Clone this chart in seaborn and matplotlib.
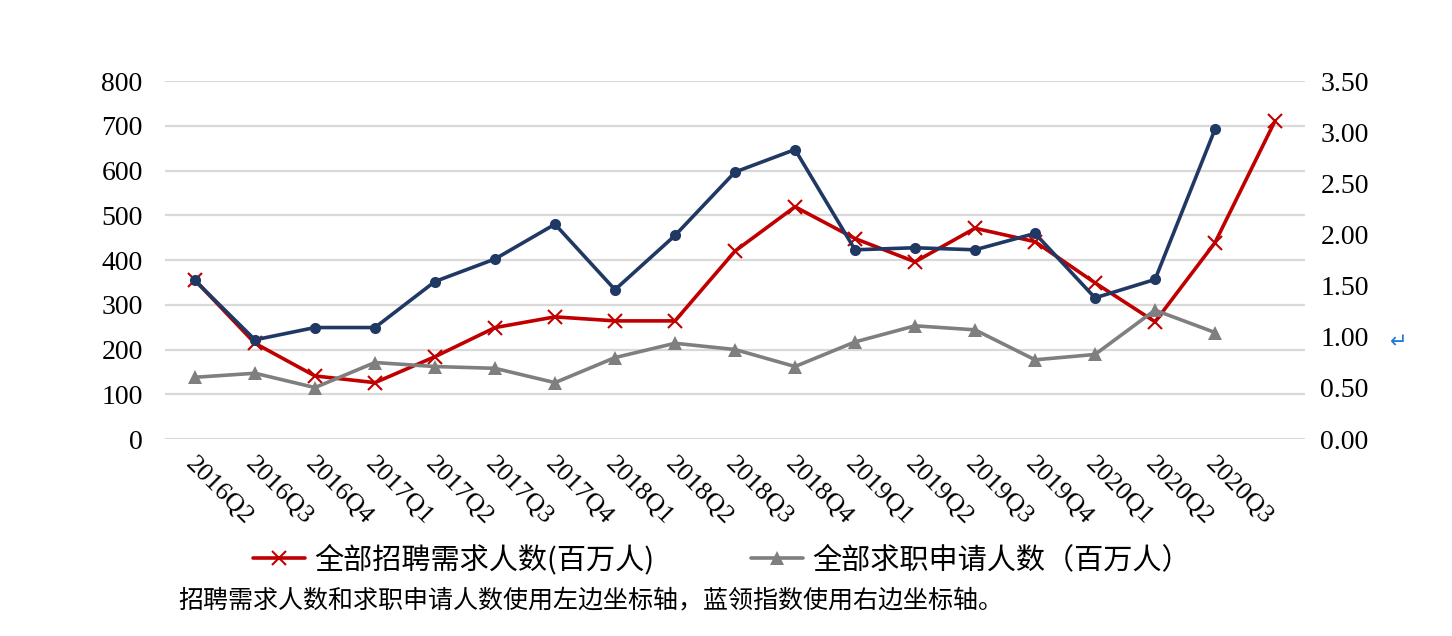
import numpy as np
import pandas as pd
import matplotlib
matplotlib.use("Agg")
import matplotlib.pyplot as plt
import matplotlib.transforms as mtransforms
import seaborn as sns

# -------------------------------
# Data
# -------------------------------
quarters = ["2016Q2", "2016Q3", "2016Q4", "2017Q1", "2017Q2", "2017Q3", "2017Q4",
            "2018Q1", "2018Q2", "2018Q3", "2018Q4", "2019Q1", "2019Q2", "2019Q3",
            "2019Q4", "2020Q1", "2020Q2", "2020Q3"]

# 全部招聘需求人数 (百万人) - left axis, one extra point past 2020Q3
hiring = [355, 214, 141, 126, 184, 249, 273, 264, 264, 420, 519, 448, 396, 471,
          441, 349, 262, 439, 711]
# 全部求职申请人数 (百万人) - left axis
applicants = [138, 147, 115, 171, 162, 158, 126, 182, 214, 200, 162, 217, 253, 244,
              177, 189, 288, 238]
# 蓝领指数 - right axis
blue_index = [1.55, 0.97, 1.09, 1.09, 1.54, 1.76, 2.10, 1.46, 1.99, 2.61, 2.83, 1.85,
              1.87, 1.85, 2.01, 1.38, 1.56, 3.03]

hiring_label = "全部招聘需求人数(百万人)"
applicants_label = "全部求职申请人数（百万人）"
note = "招聘需求人数和求职申请人数使用左边坐标轴，蓝领指数使用右边坐标轴。"

df_hire = pd.DataFrame({"pos": np.arange(len(hiring)), "value": hiring})
df_app = pd.DataFrame({"pos": np.arange(len(applicants)), "value": applicants})
df_blue = pd.DataFrame({"pos": np.arange(len(blue_index)), "value": blue_index})

# -------------------------------
# Style
# -------------------------------
sns.set_style("white")
plt.rcParams['font.family'] = ['Liberation Serif', 'Noto Sans CJK SC']
plt.rcParams['text.color'] = 'black'
plt.rcParams['xtick.color'] = 'black'
plt.rcParams['ytick.color'] = 'black'
cjk = ['Noto Sans CJK SC', 'DejaVu Sans']

RED = "#C00000"
GREY = "#7F7F7F"
NAVY = "#203864"

fig = plt.figure(figsize=(14.52, 6.36), dpi=100)
ax = fig.add_axes([0.1136, 0.3097, 0.7852, 0.5629])
ax2 = ax.twinx()

# left axis series
sns.lineplot(data=df_hire, x="pos", y="value", ax=ax, color=RED, lw=2.6,
             marker="x", markersize=10, markeredgewidth=1.5, markeredgecolor=RED,
             label=hiring_label)
sns.lineplot(data=df_app, x="pos", y="value", ax=ax, color=GREY, lw=2.6,
             marker="^", markersize=10, markeredgewidth=0, label=applicants_label)

# right axis series
sns.lineplot(data=df_blue, x="pos", y="value", ax=ax2, color=NAVY, lw=2.6,
             marker="o", markersize=8, markeredgewidth=0, legend=False)

# -------------------------------
# Axes formatting
# -------------------------------
ax.set_xlim(-0.5, len(hiring) - 0.5)
ax.set_ylim(0, 800)
ax.set_yticks(np.arange(0, 801, 100))
ax2.set_ylim(0, 3.5)
ax2.set_yticks(np.arange(0, 3.51, 0.5))
ax2.set_yticklabels([f"{v:.2f}" for v in np.arange(0, 3.51, 0.5)])

ax.set_xticks(np.arange(len(hiring)))
ax.set_xticklabels(quarters + [""], rotation=-45, ha="left", va="center",
                   rotation_mode="anchor")

ax.grid(axis="y", color="#D9D9D9", lw=1.6)
ax.set_axisbelow(True)
for a in (ax, ax2):
    for s in a.spines.values():
        s.set_visible(False)
    a.set_xlabel("")
    a.set_ylabel("")
ax.tick_params(axis="y", length=0, labelsize=20, pad=16)
ax.tick_params(axis="x", length=0, labelsize=19, pad=16)
shift = mtransforms.ScaledTranslation(-6 / 100, 0, fig.dpi_scale_trans)
for t in ax.get_xticklabels():
    t.set_transform(t.get_transform() + shift)
ax2.tick_params(axis="y", length=0, labelsize=20, pad=11)

# legend below the chart
handles, labels = ax.get_legend_handles_labels()
ax.get_legend().remove()
fig.legend(handles, labels, loc="center", bbox_to_anchor=(0.497, 0.1195), ncol=2,
           frameon=False, prop={'family': cjk, 'size': 21}, handlelength=1.8,
           handletextpad=0.3, columnspacing=3.3)

fig.text(0.1226, 0.0566, note, family=cjk, fontsize=18, va="center", ha="left")
fig.text(0.963, 0.461, "↵", family=['DejaVu Sans'], fontsize=15, color="#1E78D7",
         va="center", ha="center")

fig.savefig("out.png", dpi=100)
